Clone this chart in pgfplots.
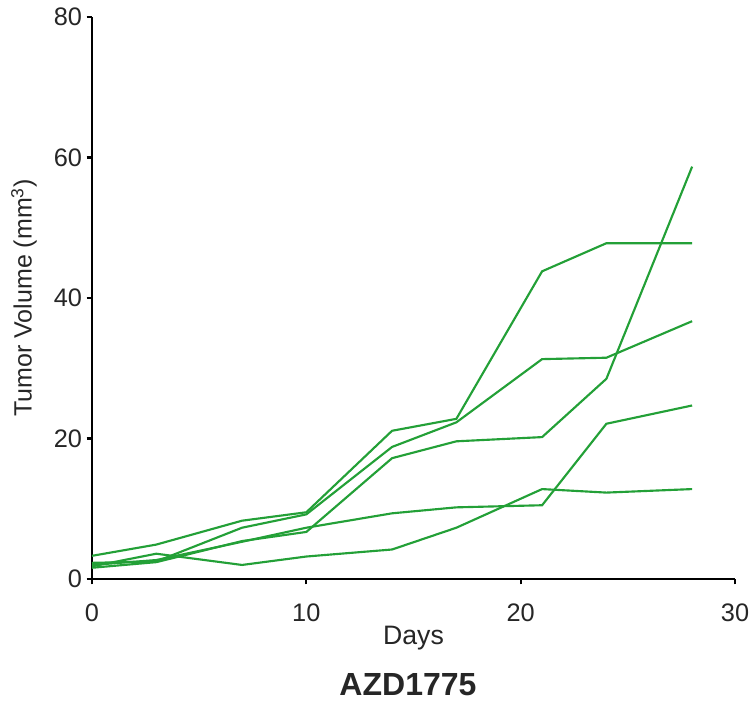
\documentclass[border=0pt]{standalone}
\usepackage{fontspec}
\setmainfont{Liberation Sans}
\usepackage{pgfplots}
\pgfplotsset{compat=1.18}
\definecolor{lg}{RGB}{35,160,55}
\begin{document}
\begin{tikzpicture}
\useasboundingbox (-69pt,-93.75pt) rectangle (495.75pt,434.25pt);
\begin{axis}[
  at={(0,0)}, anchor=origin,
  scale only axis, width=482.25pt, height=421.5pt,
  xmin=0, xmax=30, ymin=0, ymax=80,
  xtick={0,10,20,30}, ytick={0,20,40,60,80},
  axis x line*=bottom, axis y line*=left,
  axis line style={line width=2pt, black},
  tick style={line width=1.6pt, black},
  tick align=outside, major tick length=4pt,
  minor tick num=0,
  /pgf/number format/assume math mode=true,
  ticklabel style={font=\fontsize{19}{22}\selectfont, text=black!85},
  xticklabel style={yshift=-11pt},
  xlabel={Days}, ylabel={Tumor Volume (mm\textsuperscript{3})},
  every axis x label/.style={at={(axis description cs:0.5,-0.1174)}, anchor=base, font=\fontsize{20}{24}\selectfont, text=black!85},
  every axis y label/.style={at={(axis description cs:-0.1058,0.5)}, rotate=90, anchor=center, font=\fontsize{18.75}{22}\selectfont, text=black!85},
  clip=false,
]
\addplot[lg, line width=1.6pt] coordinates {(0,3.3)(3,4.9)(7,8.3)(10,9.5)(14,21.1)(17,22.8)(21,43.8)(24,47.8)(28,47.8)};
\addplot[lg, line width=1.6pt] coordinates {(0,2.3)(3,2.5)(7,7.3)(10,9.2)(14,18.8)(17,22.3)(21,31.3)(24,31.5)(28,36.7)};
\addplot[lg, line width=1.6pt] coordinates {(0,1.6)(3,2.4)(7,5.4)(10,6.7)(14,17.2)(17,19.6)(21,20.2)(24,28.5)(28,58.7)};
\addplot[lg, line width=1.6pt] coordinates {(0,2.0)(3,2.7)(7,5.3)(10,7.3)(14,9.35)(17,10.2)(21,10.5)(24,22.1)(28,24.7)};
\addplot[lg, line width=1.6pt] coordinates {(0,1.8)(3,3.6)(7,2.0)(10,3.2)(14,4.2)(17,7.3)(21,12.8)(24,12.3)(28,12.8)};
\node[anchor=base, font=\bfseries\fontsize{24}{28}\selectfont, text=black!85] at (axis description cs:0.4914,-0.2064) {AZD1775};
\end{axis}
\end{tikzpicture}
\end{document}
